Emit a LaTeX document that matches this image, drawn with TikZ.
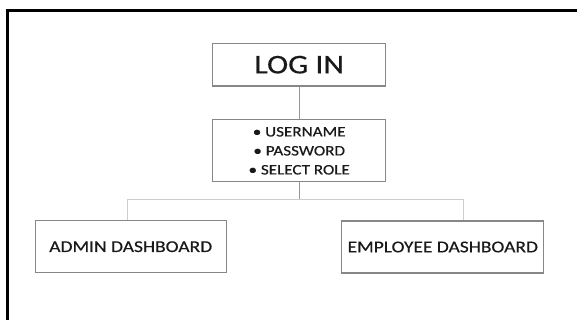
\documentclass[tikz,border=0pt]{standalone}
\usepackage{fontspec}
\setmainfont{Carlito}[FakeStretch=1.18,FakeBold=0.4]
\definecolor{boxgray}{RGB}{135,135,135}
\definecolor{conngray}{RGB}{150,150,150}
\definecolor{lightgray2}{RGB}{205,205,205}
\definecolor{txt}{RGB}{25,25,25}
\begin{document}
\begin{tikzpicture}[x=1pt,y=1pt,
  box/.style={draw=boxgray,line width=1.1pt,fill=white,inner sep=0pt,text=txt,align=center},
  conn/.style={draw=conngray,line width=0.9pt},
  lconn/.style={draw=lightgray2,line width=0.9pt}]
\useasboundingbox (0,0) rectangle (577,-320);
\fill[white] (0,0) rectangle (577,-320);
% outer frame
\draw[line width=2.4pt,black] (7.3,-340) |- (600,-10.5);
% nodes
\node[box,minimum width=173pt,minimum height=42.7pt,font=\fontsize{27}{30}\selectfont] (login) at (299.2,-64.7) {LOG IN};
\node[box,minimum width=173pt,minimum height=61.7pt,font=\fontsize{14.5}{19}\selectfont] (creds) at (299.2,-150.8) {• USERNAME\\• PASSWORD\\• SELECT ROLE};
\node[box,minimum width=191.3pt,minimum height=52pt,font=\fontsize{16.5}{20}\selectfont] (admin) at (130.7,-246.7) {ADMIN DASHBOARD};
\node[box,minimum width=201.8pt,minimum height=52pt,font=\fontsize{16.5}{20}\selectfont] (emp) at (442.8,-247) {EMPLOYEE DASHBOARD};
% connectors
\coordinate (split) at (299.2,-199.3);
\coordinate (lj) at (127.7,-199.3);
\coordinate (rj) at (463.5,-199.3);
\draw[conn] (login) -- (creds);
\draw[conn] (creds.south) -- (split);
\draw[lconn] (lj) -- (rj);
\draw[lconn] (lj) -- (lj |- admin.north);
\draw[lconn] (rj) -- (rj |- emp.north);
\end{tikzpicture}
\end{document}
